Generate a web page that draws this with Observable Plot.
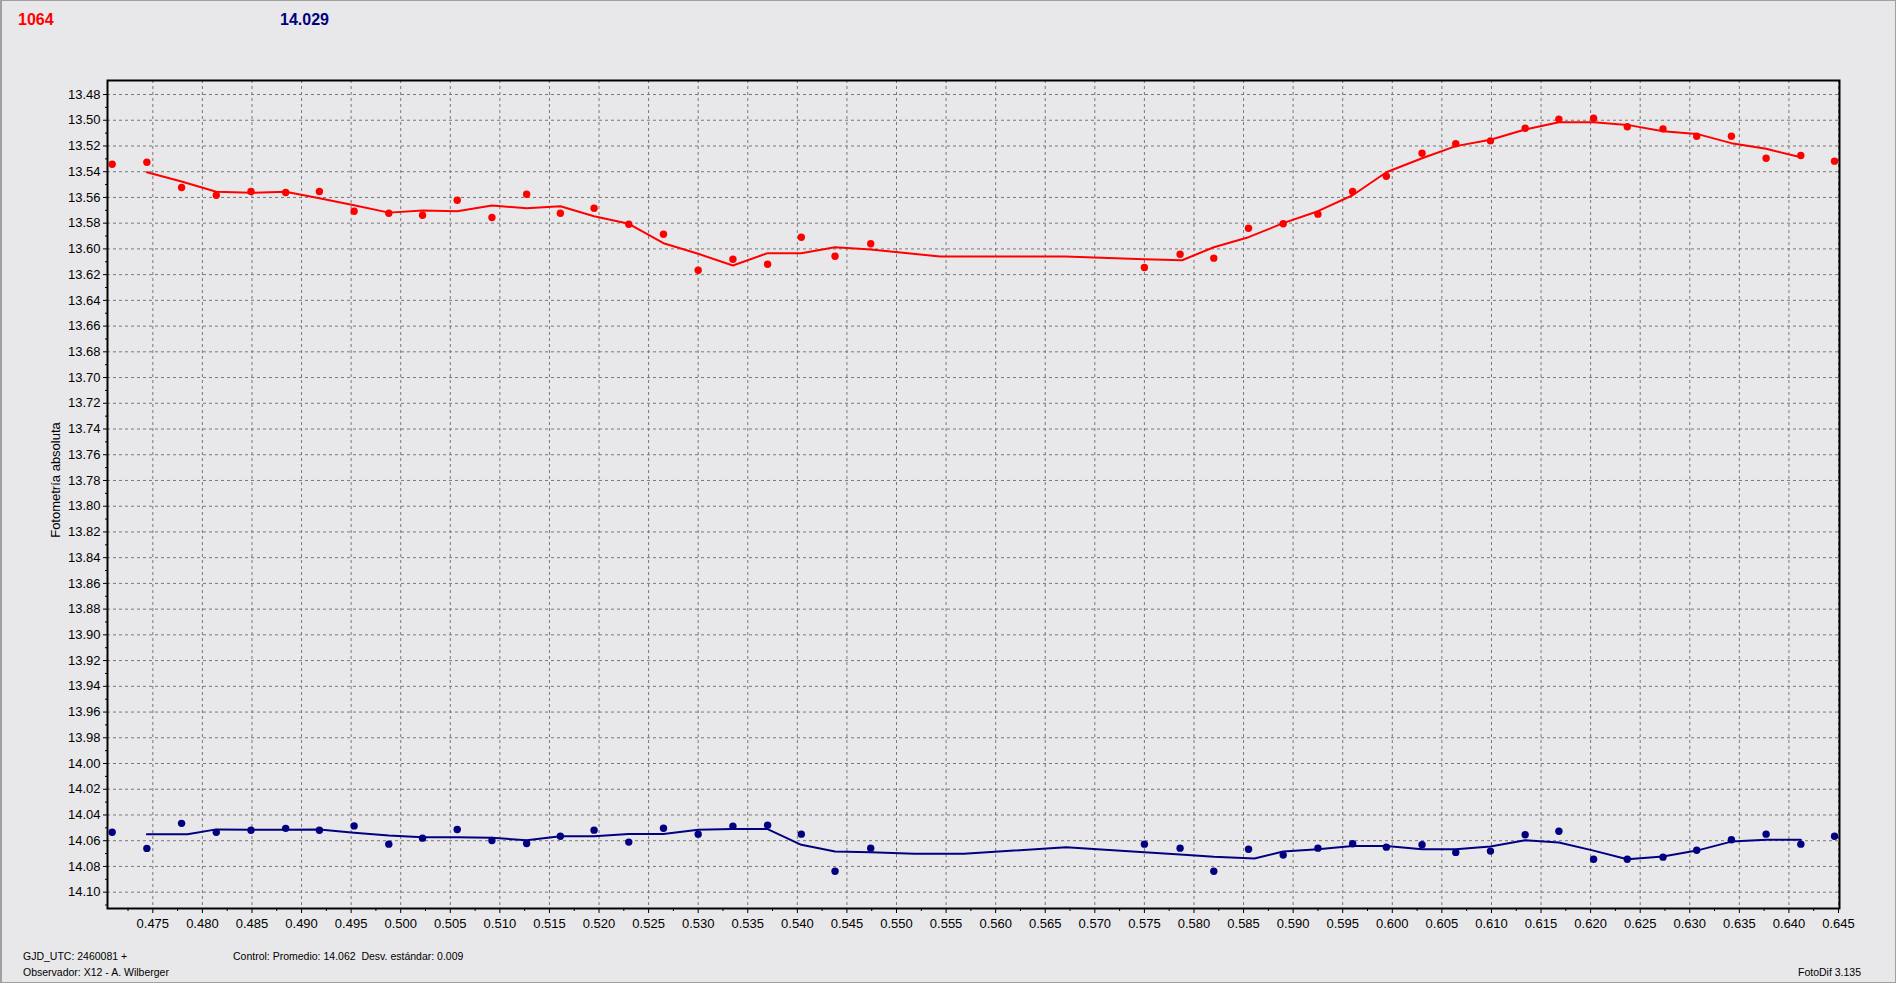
<!DOCTYPE html>
<html>
<head>
<meta charset="utf-8">
<script src="https://cdn.jsdelivr.net/npm/d3@7"></script>
<script src="https://cdn.jsdelivr.net/npm/@observablehq/plot@0.6"></script>
<style>
  html, body { margin: 0; padding: 0; background: #ffffff; overflow: hidden; width: 1900px; height: 984px; }
  #panel { position: absolute; left: 0; top: 0; width: 1893px; height: 981px; border: 1px solid #a0a0a0; border-left-width: 2px; background: #e8e8ea; }
  #chart { position: absolute; left: 0; top: 0; }
  .t { position: absolute; font-family: "Liberation Sans", Arial, sans-serif; white-space: pre; line-height: 1; color: #000; }
</style>
</head>
<body>
<div id="panel"></div>
<div id="chart"></div>
<div class="t" style="left:18px; top:11.5px; font-size:16px; font-weight:bold; color:#ff0000;">1064</div>
<div class="t" style="left:280px; top:11.5px; font-size:16px; font-weight:bold; color:#000080;">14.029</div>
<div class="t" style="left:55px; top:480px; font-size:13px; transform: translate(-50%, -50%) rotate(-90deg);">Fotometría absoluta</div>
<div class="t" style="left:23px; top:950.6px; font-size:10.5px;">GJD_UTC: 2460081 +</div>
<div class="t" style="left:23px; top:967.1px; font-size:10.5px;">Observador: X12 - A. Wilberger</div>
<div class="t" style="left:233px; top:950.6px; font-size:10.5px;">Control: Promedio: 14.062  Desv. estándar: 0.009</div>
<div class="t" style="left:1798px; top:966.6px; font-size:10.5px;">FotoDif 3.135</div>
<script>
// Observation times (GJD_UTC - 2460081)
const jd = [0.4709, 0.4744, 0.4779, 0.4814, 0.4849, 0.4884, 0.4918, 0.4953, 0.4988, 0.5022,
            0.5057, 0.5092, 0.5127, 0.5161, 0.5195, 0.5230, 0.5265, 0.5300, 0.5335, 0.5370,
            0.5404, 0.5438, 0.5474, 0.5750, 0.5786, 0.5820, 0.5855, 0.5890, 0.5925, 0.5960,
            0.5994, 0.6030, 0.6064, 0.6099, 0.6134, 0.6168, 0.6203, 0.6237, 0.6273, 0.6307,
            0.6342, 0.6377, 0.6412, 0.6446];

// Target star (1064) absolute photometry
const targetMag = [13.5342, 13.5326, 13.5523, 13.5583, 13.5554, 13.5562, 13.5554, 13.5707, 13.5723, 13.5738,
                   13.5622, 13.5756, 13.5575, 13.5723, 13.5684, 13.5808, 13.5886, 13.6166, 13.6080, 13.6119,
                   13.5909, 13.6057, 13.5960, 13.6145, 13.6041, 13.6072, 13.5839, 13.5805, 13.5730, 13.5554,
                   13.5435, 13.5256, 13.5183, 13.5160, 13.5062, 13.4992, 13.4984, 13.5051, 13.5067, 13.5124,
                   13.5124, 13.5295, 13.5274, 13.5318];

// Control star (14.029) absolute photometry
const controlMag = [14.0534, 14.0660, 14.0465, 14.0535, 14.0519, 14.0504, 14.0519, 14.0485, 14.0627, 14.0580,
                    14.0513, 14.0598, 14.0622, 14.0565, 14.0518, 14.0611, 14.0503, 14.0549, 14.0487, 14.0479,
                    14.0549, 14.0837, 14.0658, 14.0627, 14.0658, 14.0837, 14.0666, 14.0712, 14.0658, 14.0624,
                    14.0650, 14.0632, 14.0691, 14.0681, 14.0554, 14.0526, 14.0744, 14.0744, 14.0728, 14.0674,
                    14.0593, 14.0549, 14.0627, 14.0565];

// Smoothed curve of the target star
const targetFitT = [0.4744, 0.4779, 0.4814, 0.4849, 0.4884, 0.4918, 0.4953, 0.4988, 0.5022, 0.5057,
                    0.5092, 0.5127, 0.5161, 0.5195, 0.5230, 0.5265, 0.5300, 0.5335, 0.5370, 0.5404,
                    0.5438, 0.5474, 0.5544, 0.5670, 0.5750, 0.5788, 0.5820, 0.5855, 0.5890, 0.5925,
                    0.5960, 0.5994, 0.6030, 0.6064, 0.6099, 0.6134, 0.6168, 0.6203, 0.6237, 0.6273,
                    0.6307, 0.6342, 0.6377, 0.6412];
const targetFitMag = [13.5404, 13.5476, 13.5556, 13.5564, 13.5556, 13.5606, 13.5660, 13.5718, 13.5702, 13.5707,
                      13.5663, 13.5684, 13.5668, 13.5746, 13.5805, 13.5956, 13.6038, 13.6129, 13.6033, 13.6033,
                      13.5987, 13.6005, 13.6059, 13.6059, 13.6080, 13.6088, 13.5987, 13.5909, 13.5800, 13.5707,
                      13.5583, 13.5404, 13.5295, 13.5201, 13.5152, 13.5072, 13.5015, 13.5015, 13.5036, 13.5085,
                      13.5106, 13.5178, 13.5222, 13.5287];

// Smoothed curve of the control star
const controlFitT = [0.4744, 0.4785, 0.4814, 0.4849, 0.4884, 0.4918, 0.4953, 0.4988, 0.5022, 0.5057,
                     0.5092, 0.5127, 0.5161, 0.5195, 0.5230, 0.5265, 0.5300, 0.5335, 0.5370, 0.5404,
                     0.5438, 0.5474, 0.5518, 0.5568, 0.5671, 0.5750, 0.5786, 0.5820, 0.5861, 0.5890,
                     0.5925, 0.5960, 0.5994, 0.6030, 0.6064, 0.6099, 0.6134, 0.6168, 0.6203, 0.6237,
                     0.6273, 0.6307, 0.6342, 0.6377, 0.6412];
const controlFitMag = [14.0549, 14.0549, 14.0512, 14.0515, 14.0515, 14.0513, 14.0539, 14.0560, 14.0573, 14.0573,
                       14.0578, 14.0596, 14.0565, 14.0565, 14.0547, 14.0547, 14.0515, 14.0510, 14.0510, 14.0632,
                       14.0684, 14.0689, 14.0702, 14.0702, 14.0650, 14.0689, 14.0707, 14.0725, 14.0739, 14.0684,
                       14.0666, 14.0642, 14.0642, 14.0666, 14.0666, 14.0645, 14.0596, 14.0614, 14.0677, 14.0744,
                       14.0723, 14.0677, 14.0607, 14.0593, 14.0593];

// Tick labels
const xTicks = [0.475, 0.480, 0.485, 0.490, 0.495, 0.500, 0.505, 0.510, 0.515, 0.520, 0.525, 0.530,
                0.535, 0.540, 0.545, 0.550, 0.555, 0.560, 0.565, 0.570, 0.575, 0.580, 0.585, 0.590,
                0.595, 0.600, 0.605, 0.610, 0.615, 0.620, 0.625, 0.630, 0.635, 0.640, 0.645];
const yTicks = [13.48, 13.50, 13.52, 13.54, 13.56, 13.58, 13.60, 13.62, 13.64, 13.66, 13.68, 13.70,
                13.72, 13.74, 13.76, 13.78, 13.80, 13.82, 13.84, 13.86, 13.88, 13.90, 13.92, 13.94,
                13.96, 13.98, 14.00, 14.02, 14.04, 14.06, 14.08, 14.10];
const xMinor = xTicks.map(v => +(v - 0.0025).toFixed(4));
const yMinor = yTicks.map(v => +(v + 0.01).toFixed(3));

const points = jd.map((t, i) => ({t, target: targetMag[i], control: controlMag[i]}));
const targetFit = targetFitT.map((t, i) => ({t, m: targetFitMag[i]}));
const controlFit = controlFitT.map((t, i) => ({t, m: controlFitMag[i]}));

const RED = "#ff0000", NAVY = "#000080", GRID = "#787878";

const chart = Plot.plot({
  width: 1900,
  height: 984,
  marginLeft: 107,
  marginRight: 61,
  marginTop: 80,
  marginBottom: 76,
  style: {background: "transparent", color: "#000", fontFamily: "'Liberation Sans', Arial, sans-serif", fontSize: "13px", overflow: "visible"},
  x: {domain: [0.47043, 0.6451]},
  y: {domain: [13.4691, 14.1127], reverse: true},
  marks: [
    Plot.gridX(xTicks, {stroke: GRID, strokeOpacity: 1, strokeWidth: 1, strokeDasharray: "3,3"}),
    Plot.gridY(yTicks, {stroke: GRID, strokeOpacity: 1, strokeWidth: 1, strokeDasharray: "3,3"}),
    Plot.axisX(xMinor, {tickSize: 3, text: null, label: null}),
    Plot.axisX(xTicks, {tickSize: 5, tickPadding: 5, tickFormat: d => d.toFixed(3), label: null, fontSize: 13}),
    Plot.axisY(yMinor, {tickSize: 2, text: null, label: null}),
    Plot.axisY(yTicks, {tickSize: 4, tickPadding: 3, tickFormat: d => d.toFixed(2), label: null, fontSize: 13}),
    Plot.line(targetFit, {x: "t", y: "m", stroke: RED, strokeWidth: 2}),
    Plot.line(controlFit, {x: "t", y: "m", stroke: NAVY, strokeWidth: 2}),
    Plot.dot(points, {x: "t", y: "target", r: 3.7, fill: RED}),
    Plot.dot(points, {x: "t", y: "control", r: 3.7, fill: NAVY}),
    Plot.frame({stroke: "#000", strokeWidth: 2})
  ]
});
document.getElementById("chart").appendChild(chart);
</script>
</body>
</html>
